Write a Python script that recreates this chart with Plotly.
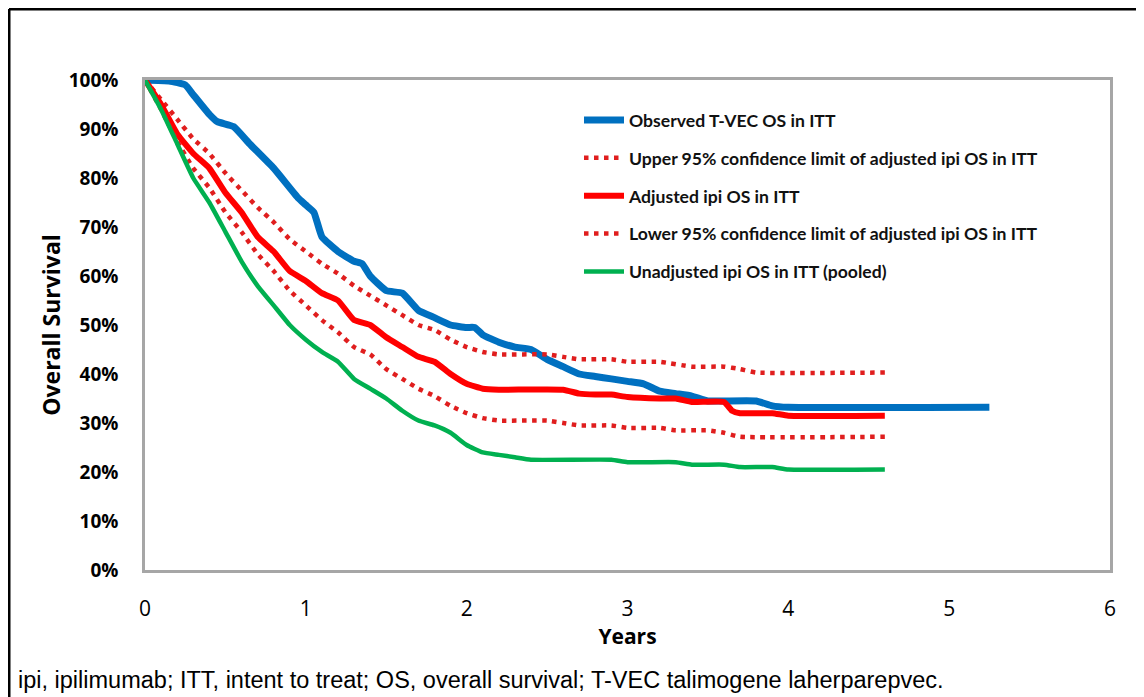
import plotly.graph_objects as go

# years and overall survival (%)
tvec_x = [0, 0.15, 0.25, 0.3, 0.4, 0.45, 0.55, 0.65, 0.8, 0.95, 1.0, 1.05, 1.1, 1.2, 1.3, 1.35,
          1.4, 1.5, 1.6, 1.7, 1.8, 1.9, 2.0, 2.05, 2.1, 2.2, 2.3, 2.4, 2.5, 2.6, 2.7, 2.8, 2.9,
          3.0, 3.1, 3.2, 3.3, 3.4, 3.5, 3.6, 3.8, 3.9, 4.0, 5.25]
tvec_y = [100, 99.8, 99, 97, 93, 91.5, 90.5, 87, 82, 76, 74.5, 73, 68, 65, 63, 62.5,
          60, 57, 56.5, 53, 51.5, 50, 49.5, 49.5, 48, 46.5, 45.5, 45, 43, 41.5, 40, 39.5, 39,
          38.5, 38, 36.5, 36, 35.5, 34.5, 34.5, 34.5, 33.5, 33.2, 33.2]

ipi_x = [0, 0.1, 0.2, 0.3, 0.4, 0.5, 0.6, 0.7, 0.8, 0.9, 1.0, 1.1, 1.2, 1.3, 1.4, 1.5, 1.6,
         1.7, 1.8, 1.9, 2.0, 2.1, 2.2, 2.6, 2.7, 2.8, 2.9, 3.0, 3.2, 3.3, 3.4, 3.6, 3.65, 3.7,
         3.9, 4.0, 4.6]
ipi_y = [100, 95, 89, 85, 82, 77, 73, 68, 65, 61, 59, 56.5, 55, 51, 50, 47.5, 45.5,
         43.5, 42.5, 40, 38, 37, 36.8, 36.8, 36, 35.8, 35.8, 35.3, 35, 35, 34.3, 34.3, 32.5, 32,
         32, 31.5, 31.5]

upper_x = [0, 0.1, 0.2, 0.3, 0.4, 0.5, 0.6, 0.7, 0.8, 0.9, 1.0, 1.1, 1.2, 1.3, 1.4, 1.5, 1.6,
           1.7, 1.8, 1.9, 2.0, 2.1, 2.2, 2.5, 2.6, 2.7, 2.9, 3.0, 3.2, 3.4, 3.6, 3.7, 3.8, 4.6]
upper_y = [100, 96, 92, 88, 85, 81, 77.5, 74, 71, 67.5, 65, 62.5, 60.5, 58, 56, 54, 52,
           50, 49, 47, 45.5, 44.5, 44, 44, 43.5, 43, 43, 42.5, 42.5, 41.5, 41.5, 41, 40.3, 40.3]

lower_x = [0, 0.1, 0.2, 0.3, 0.4, 0.5, 0.6, 0.7, 0.8, 0.9, 1.0, 1.1, 1.2, 1.3, 1.4, 1.5, 1.6,
           1.7, 1.8, 1.9, 2.0, 2.1, 2.2, 2.5, 2.6, 2.7, 2.9, 3.0, 3.2, 3.3, 3.5, 3.6, 3.7, 4.6]
lower_y = [100, 94, 87.5, 82, 78, 73, 69, 64.5, 61, 57, 54, 51, 48.5, 45.5, 44, 41, 39,
           37, 35.5, 33.5, 32, 31, 30.5, 30.5, 30, 29.5, 29.5, 29, 29, 28.5, 28.5, 28, 27.2, 27.2]

pooled_x = [0, 0.1, 0.2, 0.3, 0.4, 0.5, 0.6, 0.7, 0.8, 0.9, 1.0, 1.1, 1.2, 1.3, 1.4, 1.5, 1.6,
            1.7, 1.8, 1.9, 2.0, 2.1, 2.2, 2.3, 2.4, 2.9, 3.0, 3.3, 3.4, 3.6, 3.7, 3.9, 4.0, 4.6]
pooled_y = [100, 94, 87, 80, 75, 69, 63, 58, 54, 50, 47, 44.5, 42.5, 39, 37, 35, 32.5,
            30.5, 29.5, 28, 25.5, 24, 23.5, 23, 22.5, 22.5, 22, 22, 21.5, 21.5, 21, 21, 20.5, 20.5]

y_ticks = [0, 10, 20, 30, 40, 50, 60, 70, 80, 90, 100]
y_labels = ["<b>%d%%</b>" % v for v in y_ticks]
x_ticks = [0, 1, 2, 3, 4, 5, 6]

names = [
    "Observed T-VEC OS in ITT",
    "Upper 95% confidence limit of adjusted ipi OS in ITT",
    "Adjusted ipi OS in ITT",
    "Lower 95% confidence limit of adjusted ipi OS in ITT",
    "Unadjusted ipi OS in ITT (pooled)",
]

# the page body adds an 8px margin, so the figure is shrunk by that much
OFF = 8
W, H = 1144 - OFF, 697 - OFF
L, R, T, B = 145 - OFF, 34, 80 - OFF, 127

fig = go.Figure()
series = [
    (tvec_x, tvec_y, "#0070C0", 7, "solid"),
    (upper_x, upper_y, "#E01E1E", 4.5, "4.5px,5.5px"),
    (ipi_x, ipi_y, "#FF0000", 6, "solid"),
    (lower_x, lower_y, "#E01E1E", 4.5, "4.5px,5.5px"),
    (pooled_x, pooled_y, "#00B050", 4.5, "solid"),
]
for i, (xs, ys, c, w, d) in enumerate(series):
    fig.add_trace(go.Scatter(
        x=xs, y=ys, mode="lines", name="<b>" + names[i] + "</b>",
        line=dict(color=c, width=w, dash=d, shape="spline", smoothing=0.4),
        legendgroup=str(i),
    ))


# page pixel -> paper fraction
def px_x(p):
    return (p - OFF - L) / (W - L - R)


def px_y(p):
    return (H - B - (p - OFF)) / (H - T - B)


fig.update_layout(
    width=W, height=H,
    margin=dict(l=L, r=R, t=T, b=B),
    paper_bgcolor="white",
    plot_bgcolor="white",
    font=dict(family="Lato", color="black"),
    showlegend=True,
    legend=dict(
        x=px_x(579), y=px_y(102), xanchor="left", yanchor="top",
        bgcolor="rgba(0,0,0,0)", font=dict(size=17.6, family="Lato", color="#111111"),
        tracegroupgap=12, itemwidth=40,
    ),
    xaxis=dict(
        range=[0, 6], tickvals=x_ticks, showgrid=False, zeroline=False,
        showline=True, mirror=True, linecolor="#A6A6A6", linewidth=2.5,
        ticks="", tickfont=dict(size=21, family="Open Sans"), ticklabelstandoff=18,
        title=dict(text="<b>Years</b>", font=dict(size=21, family="Open Sans"), standoff=2),
    ),
    yaxis=dict(
        range=[0, 100], tickvals=y_ticks, ticktext=y_labels, showgrid=False,
        zeroline=False, showline=True, mirror=True, linecolor="#A6A6A6", linewidth=2.5,
        ticks="", tickfont=dict(size=19, family="Open Sans"), ticklabelstandoff=20,
        title=dict(text="<b>Overall Survival</b>", font=dict(size=23, family="Open Sans"), standoff=2),
    ),
    shapes=[
        dict(type="line", xref="paper", yref="paper", x0=px_x(9), x1=px_x(9), y0=px_y(9), y1=px_y(697),
             line=dict(color="black", width=3)),
        dict(type="line", xref="paper", yref="paper", x0=px_x(9), x1=px_x(1142), y0=px_y(9), y1=px_y(9),
             line=dict(color="black", width=3)),
        dict(type="line", xref="paper", yref="paper", x0=px_x(1142), x1=px_x(1142), y0=px_y(9), y1=px_y(697),
             line=dict(color="black", width=3)),
    ],
    annotations=[
        dict(text="ipi, ipilimumab; ITT, intent to treat; OS, overall survival; T-VEC talimogene laherparepvec.",
             xref="paper", yref="paper", x=px_x(16), y=px_y(695), xanchor="left", yanchor="bottom",
             showarrow=False, font=dict(size=23.5, family="Liberation Sans", color="black")),
    ],
)

fig.write_html("out.html")
